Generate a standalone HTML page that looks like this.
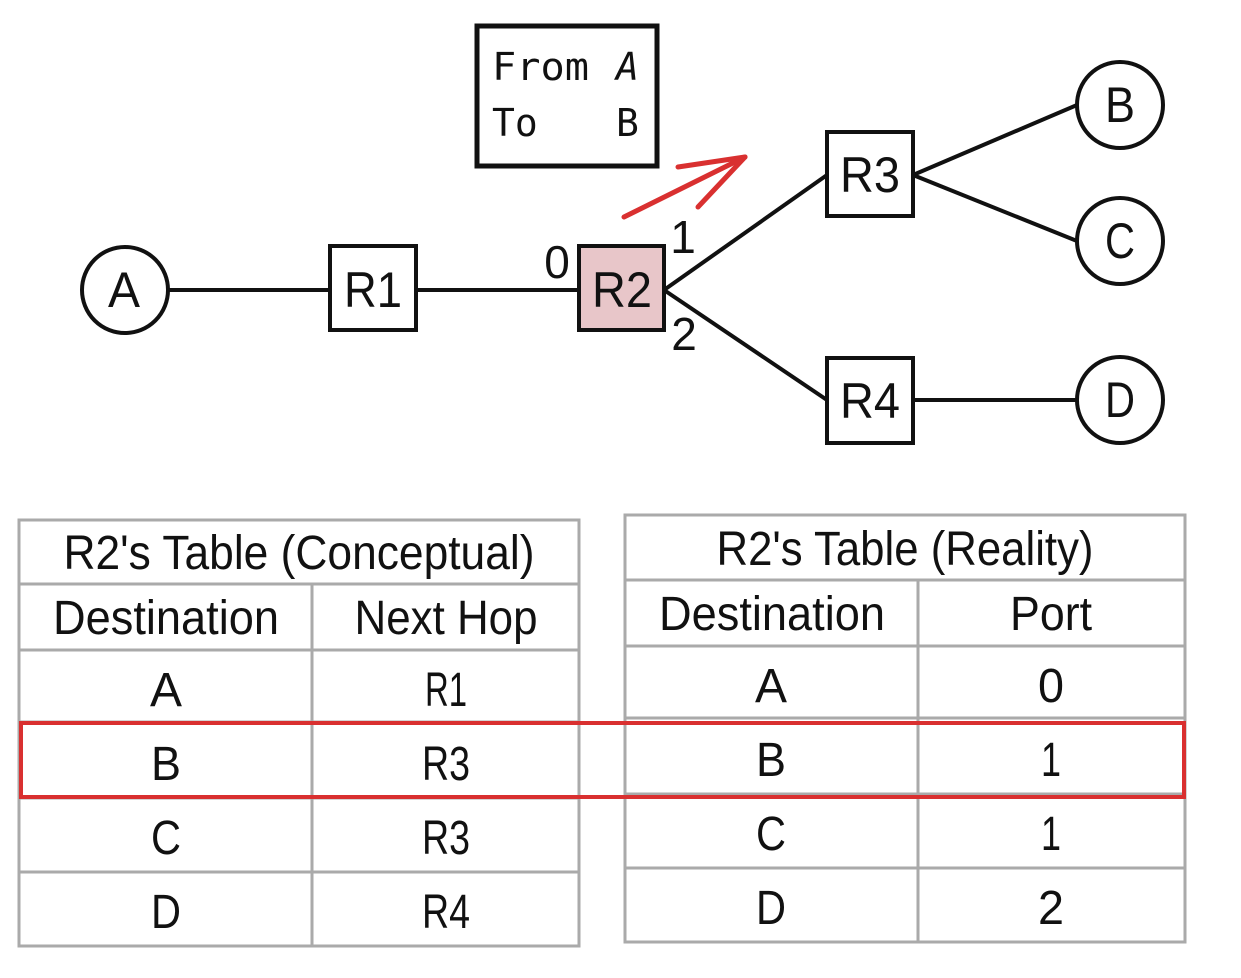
<!DOCTYPE html>
<html><head><style>
body{margin:0;background:#fff;width:1241px;height:978px;overflow:hidden}
svg{position:absolute;left:0;top:0}
text{font-family:"Liberation Sans",sans-serif}
.m{font-family:"DejaVu Sans Mono","Liberation Mono",monospace}
</style></head><body>
<svg width="1241" height="978" viewBox="0 0 1241 978">
<g stroke="#111" stroke-width="4" fill="none">
<line x1="168" y1="290" x2="330" y2="290"/>
<line x1="416" y1="290" x2="578" y2="290"/>
<line x1="664" y1="290" x2="827" y2="175"/>
<line x1="664" y1="290" x2="827" y2="400"/>
<line x1="913" y1="175" x2="1077" y2="105"/>
<line x1="913" y1="175" x2="1077" y2="241"/>
<line x1="913" y1="400" x2="1077" y2="400"/>
<circle cx="125" cy="290" r="43" fill="#fff"/>
<circle cx="1120" cy="105" r="43" fill="#fff"/>
<circle cx="1120" cy="241" r="43" fill="#fff"/>
<circle cx="1120" cy="400" r="43" fill="#fff"/>
<rect x="330" y="246" width="86" height="84" fill="#fff"/>
<rect x="579" y="246" width="85" height="84" fill="#e8c6c9"/>
<rect x="827" y="132" width="86" height="84" fill="#fff"/>
<rect x="827" y="358" width="86" height="85" fill="#fff"/>
<rect x="477" y="26" width="180" height="140" fill="#fff" stroke-width="5"/>
</g>
<g stroke="#d93030" stroke-width="5" fill="none" stroke-linecap="round">
<line x1="624" y1="217" x2="745" y2="157"/>
<line x1="678" y1="167" x2="745" y2="157"/>
<line x1="698" y1="207" x2="745" y2="157"/>
</g>
<g font-size="50" text-anchor="middle" fill="#111">
<text x="124" y="307" textLength="32" lengthAdjust="spacingAndGlyphs">A</text>
<text x="1120" y="122" textLength="30" lengthAdjust="spacingAndGlyphs">B</text>
<text x="1120" y="258" textLength="30" lengthAdjust="spacingAndGlyphs">C</text>
<text x="1120" y="417" textLength="30" lengthAdjust="spacingAndGlyphs">D</text>
<text x="373" y="307" textLength="58" lengthAdjust="spacingAndGlyphs">R1</text>
<text x="622" y="307" textLength="60" lengthAdjust="spacingAndGlyphs">R2</text>
<text x="870" y="192" textLength="60" lengthAdjust="spacingAndGlyphs">R3</text>
<text x="870" y="418" textLength="60" lengthAdjust="spacingAndGlyphs">R4</text>
<text x="557" y="278" font-size="46">0</text>
<text x="683" y="253" font-size="46">1</text>
<text x="684" y="350" font-size="46">2</text>
</g>
<g class="m" font-size="38" fill="#111">
<text x="492" y="80" class="m" textLength="97" lengthAdjust="spacingAndGlyphs">From</text>
<text x="616" y="80" class="m" font-style="italic">A</text>
<text x="492" y="136" class="m">To</text>
<text x="616" y="136" class="m">B</text>
</g>
<g stroke="#aaa" stroke-width="3" fill="none">
<rect x="19" y="520" width="560" height="426"/>
<line x1="19" y1="584" x2="579" y2="584"/>
<line x1="19" y1="650" x2="579" y2="650"/>
<line x1="19" y1="722" x2="579" y2="722"/>
<line x1="19" y1="798" x2="579" y2="798"/>
<line x1="19" y1="872" x2="579" y2="872"/>
<line x1="312" y1="584" x2="312" y2="946"/>
<rect x="625" y="515" width="560" height="427"/>
<line x1="625" y1="580" x2="1185" y2="580"/>
<line x1="625" y1="646" x2="1185" y2="646"/>
<line x1="625" y1="718" x2="1185" y2="718"/>
<line x1="625" y1="794" x2="1185" y2="794"/>
<line x1="625" y1="868" x2="1185" y2="868"/>
<line x1="918" y1="580" x2="918" y2="942"/>
</g>
<g font-size="48" text-anchor="middle" fill="#111">
<text x="299" y="569" textLength="471" lengthAdjust="spacingAndGlyphs">R2's Table (Conceptual)</text>
<text x="166" y="634" textLength="226" lengthAdjust="spacingAndGlyphs">Destination</text>
<text x="446" y="634" textLength="183" lengthAdjust="spacingAndGlyphs">Next Hop</text>
<text x="166" y="706" textLength="32" lengthAdjust="spacingAndGlyphs">A</text><text x="446" y="706" textLength="42" lengthAdjust="spacingAndGlyphs">R1</text>
<text x="166" y="780" textLength="30" lengthAdjust="spacingAndGlyphs">B</text><text x="446" y="780" textLength="48" lengthAdjust="spacingAndGlyphs">R3</text>
<text x="166" y="854" textLength="30" lengthAdjust="spacingAndGlyphs">C</text><text x="446" y="854" textLength="48" lengthAdjust="spacingAndGlyphs">R3</text>
<text x="166" y="928" textLength="30" lengthAdjust="spacingAndGlyphs">D</text><text x="446" y="928" textLength="48" lengthAdjust="spacingAndGlyphs">R4</text>
<text x="905" y="565" textLength="377" lengthAdjust="spacingAndGlyphs">R2's Table (Reality)</text>
<text x="772" y="630" textLength="226" lengthAdjust="spacingAndGlyphs">Destination</text>
<text x="1051" y="630" textLength="82" lengthAdjust="spacingAndGlyphs">Port</text>
<text x="771" y="702" textLength="32" lengthAdjust="spacingAndGlyphs">A</text><text x="1051" y="702" textLength="26" lengthAdjust="spacingAndGlyphs">0</text>
<text x="771" y="776" textLength="30" lengthAdjust="spacingAndGlyphs">B</text><text x="1051" y="776" textLength="20" lengthAdjust="spacingAndGlyphs">1</text>
<text x="771" y="850" textLength="30" lengthAdjust="spacingAndGlyphs">C</text><text x="1051" y="850" textLength="20" lengthAdjust="spacingAndGlyphs">1</text>
<text x="771" y="924" textLength="30" lengthAdjust="spacingAndGlyphs">D</text><text x="1051" y="924" textLength="26" lengthAdjust="spacingAndGlyphs">2</text>
</g>
<rect x="21" y="723" width="1163" height="74" fill="none" stroke="#d93030" stroke-width="4"/>
</svg>
</body></html>
